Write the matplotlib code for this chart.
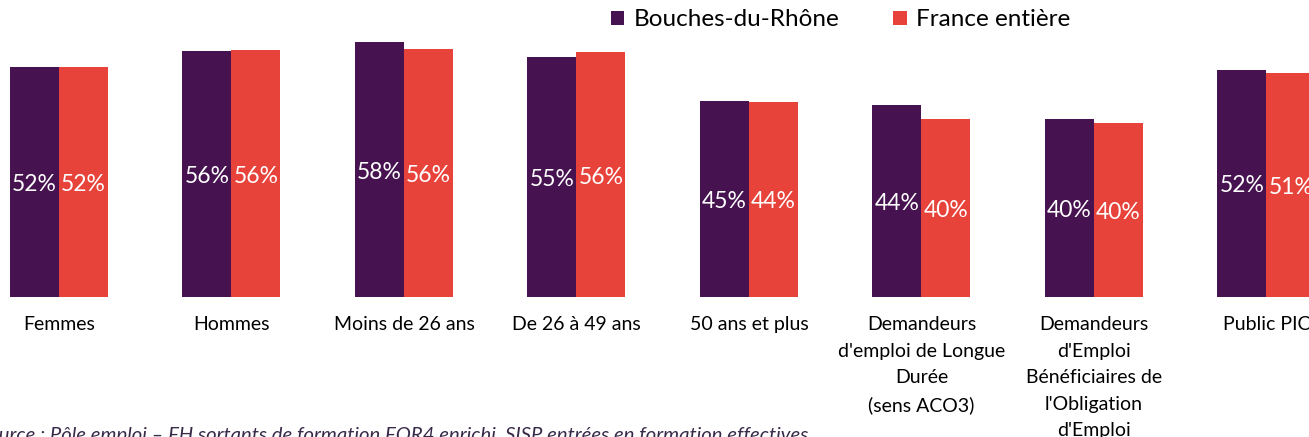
import matplotlib
matplotlib.use("Agg")
import matplotlib.pyplot as plt
import matplotlib.transforms as mtransforms
import numpy as np

categories = ["Femmes", "Hommes", "Moins de 26 ans", "De 26 à 49 ans", "50 ans et plus",
              "Demandeurs\nd'emploi de Longue\nDurée\n(sens ACO3)",
              "Demandeurs\nd'Emploi\nBénéficiaires de\nl'Obligation\nd'Emploi",
              "Public PIC"]
bdr = [52.3, 55.8, 58.0, 54.6, 44.6, 43.6, 40.4, 51.7]
france = [52.3, 56.1, 56.3, 55.6, 44.4, 40.4, 39.6, 51.0]
series_names = ["Bouches-du-Rhône", "France entière"]
source = "Source : Pôle emploi – FH sortants de formation FOR4 enrichi, SISP entrées en formation effectives"

PURPLE = "#461250"
RED = "#E8433B"
FONT = ["Lato", "DejaVu Sans"]
plt.rcParams['font.family'] = FONT

W, H = 1309, 437
fig = plt.figure(figsize=(W / 100, H / 100), dpi=100)
base_px = 297
ax = fig.add_axes([0, (H - base_px) / H, 1, base_px / H])
ppu = 4.40
ax.set_ylim(0, base_px / ppu)
spacing = 172.5
ax.set_xlim(-59 / spacing, (W - 59) / spacing)
ax.axis("off")

x = np.arange(len(categories))
bw = 49 / spacing
b1 = ax.bar(x - bw / 2, bdr, bw, color=PURPLE, label=series_names[0])
b2 = ax.bar(x + bw / 2, france, bw, color=RED, label=series_names[1])

for bars, vals in ((b1, bdr), (b2, france)):
    for rect, v in zip(bars, vals):
        ax.text(rect.get_x() + rect.get_width() / 2, v / 2 - 0.6, f"{round(v)}%",
                ha="center", va="center", color="white", fontsize=16.5)

trans = mtransforms.blended_transform_factory(ax.transData, fig.transFigure)
for xi, lab in zip(x, categories):
    ax.text(xi, 1 - 316 / H, lab, transform=trans, ha="center", va="top",
            fontsize=14, color="black", linespacing=1.68, clip_on=False)

fig.text(-22 / W, 1 - 441 / H, source, ha="left", va="baseline", fontsize=14.6,
         style="italic", color="#3a2a4a")

fig.legend(handles=[b1, b2], loc="center left", bbox_to_anchor=(611 / W, 1 - 20 / H),
           ncol=2, frameon=False, fontsize=17.5, handlelength=0.55, handleheight=0.55,
           handletextpad=0.4, columnspacing=2.2, borderaxespad=0, borderpad=0)

fig.savefig("out.png", dpi=100)
